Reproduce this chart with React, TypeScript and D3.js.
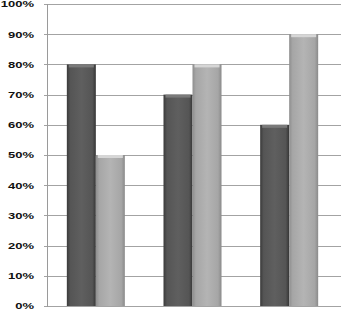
import React from "react";
import * as d3 from "d3";

const categories = ["A", "B", "C"];
const seriesDark = [0.8, 0.7, 0.6];
const seriesLight = [0.5, 0.8, 0.9];
const yTicks = [0, 0.1, 0.2, 0.3, 0.4, 0.5, 0.6, 0.7, 0.8, 0.9, 1.0];

const width = 341;
const height = 311;
const marginLeft = 47;
const plotRight = 337.5;
const marginTop = 4;
const marginBottom = 5;

const App = () => {
  const x = d3
    .scaleBand<string>()
    .domain(categories)
    .range([marginLeft + 0.5, plotRight])
    .paddingInner(0)
    .paddingOuter(0);
  const y = d3
    .scaleLinear()
    .domain([0, 1])
    .range([height - marginBottom, marginTop]);
  const barW = 29;
  const fmt = d3.format(".0%");

  const series = [
    { key: "dark", values: seriesDark, grad: "gDark", cap: "#7a7a7a", offset: -barW },
    { key: "light", values: seriesLight, grad: "gLight", cap: "#d6d6d6", offset: 0 },
  ];

  return (
    <svg
      width={width}
      height={height}
      style={{ position: "absolute", left: 0, top: 0, background: "#fff" }}
    >
      <defs>
        <linearGradient id="gDark" x1="0" x2="1" y1="0" y2="0">
          <stop offset="0" stopColor="#3a3a3a" />
          <stop offset="0.12" stopColor="#555" />
          <stop offset="0.5" stopColor="#5f5f5f" />
          <stop offset="0.88" stopColor="#555" />
          <stop offset="1" stopColor="#363636" />
        </linearGradient>
        <linearGradient id="gLight" x1="0" x2="1" y1="0" y2="0">
          <stop offset="0" stopColor="#8e8e8e" />
          <stop offset="0.12" stopColor="#a6a6a6" />
          <stop offset="0.5" stopColor="#b4b4b4" />
          <stop offset="0.88" stopColor="#a6a6a6" />
          <stop offset="1" stopColor="#8a8a8a" />
        </linearGradient>
      </defs>
      {/* gridlines */}
      {yTicks.map(t => (
        <line
          key={t}
          x1={marginLeft - 3}
          x2={width}
          y1={Math.round(y(t)) + 0.5}
          y2={Math.round(y(t)) + 0.5}
          stroke="#a3a3a3"
          strokeWidth={1}
        />
      ))}
      {/* axis line */}
      <line
        x1={marginLeft + 0.5}
        x2={marginLeft + 0.5}
        y1={y(1)}
        y2={y(0) + 1}
        stroke="#9a9a9a"
      />
      {/* bars */}
      {series.map(s =>
        categories.map((c, i) => {
          const cx = (x(c) as number) + x.bandwidth() / 2;
          const bx = cx + s.offset;
          const by = y(s.values[i]);
          const bh = y(0) - by;
          return (
            <g key={s.key + c}>
              <rect x={bx} y={by} width={barW} height={bh} fill={`url(#${s.grad})`} />
              <rect x={bx + 2} y={by} width={barW - 4} height={3} fill={s.cap} />
            </g>
          );
        })
      )}
      {/* tick labels */}
      {yTicks.map(t => (
        <text
          key={"l" + t}
          transform={`translate(34,${y(t)}) scale(1,0.72)`}
          textAnchor="end"
          dominantBaseline="central"
          fontFamily="Liberation Sans, Arial, sans-serif"
          fontWeight="bold"
          fontSize={13}
          fill="#111"
        >
          {fmt(t)}
        </text>
      ))}
    </svg>
  );
};

export default App;
